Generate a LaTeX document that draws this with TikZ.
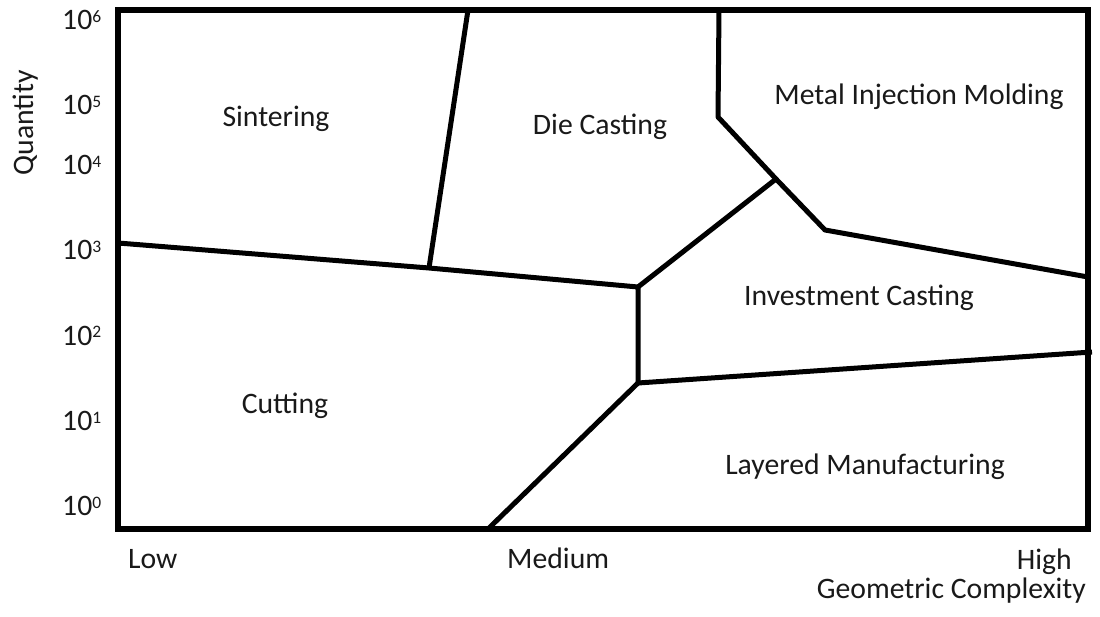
\documentclass[tikz,border=0pt]{standalone}
\usepackage{fontspec}
\setmainfont{Carlito}
\newcommand\pw[1]{10\raisebox{7pt}{\fontsize{17.5}{18}\selectfont #1}}
\begin{document}
\begin{tikzpicture}[x=1pt,y=-1pt,
  lbl/.style={font=\fontsize{29.7}{34}\selectfont, inner sep=0pt, text=black!90},
  frame/.style={line width=6pt, line join=miter},
  bound/.style={line width=5pt, line join=round, line cap=butt}]
\useasboundingbox (0,0) rectangle (1100,617);
% frame
\draw[frame] (118,10) rectangle (1088,529);
% junction coordinates
\coordinate (st) at (468,10);
\coordinate (a) at (429,268);
\coordinate (l) at (118,243);
\coordinate (b) at (638,287);
\coordinate (c) at (638,383);
\coordinate (d) at (776,179);
\coordinate (mt) at (719,10);
\coordinate (m1) at (718,117);
\coordinate (e) at (825,230);
\coordinate (r1) at (1088,277);
\coordinate (r2) at (1092,352);
\coordinate (bt) at (488,529);
% boundaries
\draw[bound] (st) -- (a);
\draw[bound] (l) -- (a) -- (b) -- (c);
\draw[bound] (b) -- (d);
\draw[bound] (mt) -- (m1) -- (d) -- (e) -- (r1);
\draw[bound] (c) -- (r2);
\draw[bound] (c) -- (bt);
% region labels
\node[lbl, anchor=base] (sin) at (276,127) {Sintering};
\node[lbl, anchor=base] (die) at (600,135) {Die Casting};
\node[lbl, anchor=base] (mim) at (919,105) {Metal Injection Molding};
\node[lbl, anchor=base] (inv) at (859,306) {Investment Casting};
\node[lbl, anchor=base] (cut) at (285,413) {Cutting};
\node[lbl, anchor=base] (lay) at (865,474) {Layered Manufacturing};
% y axis
\node[lbl, anchor=base west] (y6) at (62,30) {\pw{6}};
\node[lbl, anchor=base west] (y5) at (62,115) {\pw{5}};
\node[lbl, anchor=base west] (y4) at (62,175) {\pw{4}};
\node[lbl, anchor=base west] (y3) at (62,260) {\pw{3}};
\node[lbl, anchor=base west] (y2) at (62,345) {\pw{2}};
\node[lbl, anchor=base west] (y1) at (62,430) {\pw{1}};
\node[lbl, anchor=base west] (y0) at (62,515) {\pw{0}};
\node[lbl, anchor=base, rotate=90] (qty) at (33,123) {Quantity};
% x axis
\node[lbl, anchor=base west] (low) at (128,568) {Low};
\node[lbl, anchor=base west] (med) at (507,568) {Medium};
\node[lbl, anchor=base east] (high) at (1072,569) {High};
\node[lbl, anchor=base east] (gc) at (1086,598) {Geometric Complexity};
\end{tikzpicture}
\end{document}
